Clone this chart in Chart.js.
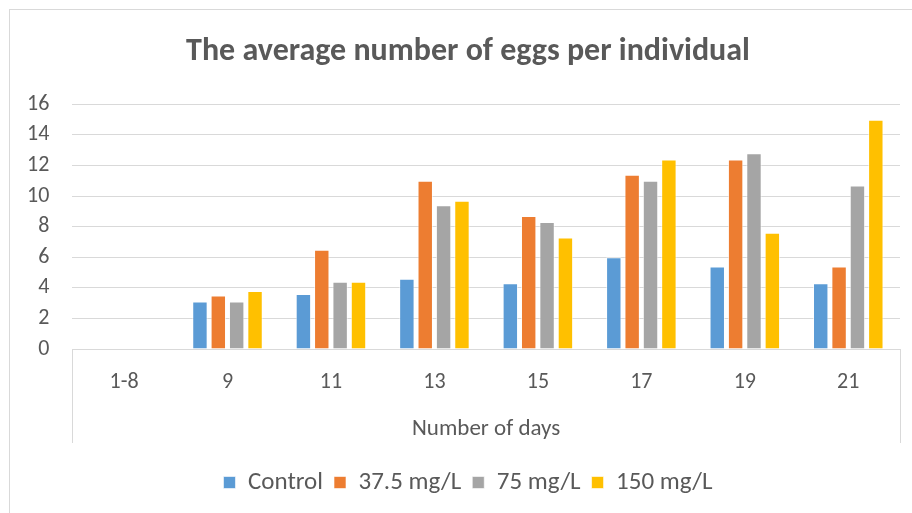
<!DOCTYPE html>
<html>
<head>
<meta charset="utf-8">
<script src="https://cdn.jsdelivr.net/npm/chart.js@4"></script>
<style>
  html, body { margin: 0; padding: 0; background: #ffffff; }
  #wrap { position: relative; width: 912px; height: 513px; }
  #frame { position: absolute; left: 9px; top: 9px; width: 920px; height: 520px; border: 1px solid #d9d9d9; box-sizing: border-box; }
  #chart { position: absolute; left: 0; top: 0; }
</style>
</head>
<body>
<div id="wrap">
  <div id="frame"></div>
  <canvas id="chart" width="912" height="513"></canvas>
</div>
<script>
const days = ['1-8', '9', '11', '13', '15', '17', '19', '21'];
const control = [0, 3.1, 3.6, 4.6, 4.3, 6.0, 5.4, 4.3];
const dose37 = [0, 3.5, 6.5, 11.0, 8.7, 11.4, 12.4, 5.4];
const dose75 = [0, 3.1, 4.4, 9.4, 8.3, 11.0, 12.8, 10.7];
const dose150 = [0, 3.8, 4.4, 9.7, 7.3, 12.4, 7.6, 15.0];
const yTicks = [0, 2, 4, 6, 8, 10, 12, 14, 16];

const textGray = '#595959';
const font = 'Calibri, Carlito, "Liberation Sans", Arial, sans-serif';
const titleGap = 16; // extra space under the axis title, outside the category box

const categoryBox = {
    id: 'categoryBox',
    afterLayout(chart) {
        // title and legend are centred on the whole frame, not the plot
        const shift = 16;
        chart.titleBlock.left += shift;
        chart.titleBlock.right += shift;
        chart.legend.left += shift;
        chart.legend.right += shift;
    },
    afterDraw(chart) {
        // box lines down the sides of the category axis (Excel style)
        const { ctx, chartArea } = chart;
        const bottom = chart.scales.x.bottom - titleGap;
        ctx.save();
        ctx.strokeStyle = '#d9d9d9';
        ctx.lineWidth = 1;
        ctx.beginPath();
        ctx.moveTo(Math.round(chartArea.left) + 0.5, chartArea.bottom);
        ctx.lineTo(Math.round(chartArea.left) + 0.5, bottom);
        ctx.moveTo(Math.round(chartArea.right) + 0.5, chartArea.bottom);
        ctx.lineTo(Math.round(chartArea.right) + 0.5, bottom);
        ctx.stroke();
        ctx.restore();
    }
};

const ds = (label, data, color) => ({
    label: label,
    data: data,
    backgroundColor: color,
    borderColor: 'rgba(255,255,255,0.6)',
    borderWidth: 1,
    categoryPercentage: 0.71,
    barPercentage: 0.84
});

new Chart(document.getElementById('chart'), {
    type: 'bar',
    data: {
        labels: days,
        datasets: [
            ds('Control', control, '#5b9bd5'),
            ds('37.5 mg/L', dose37, '#ed7d31'),
            ds('75 mg/L', dose75, '#a5a5a5'),
            ds('150 mg/L', dose150, '#ffc000')
        ]
    },
    options: {
        responsive: false,
        animation: false,
        layout: { padding: { left: 4, right: 12, top: 29, bottom: 8 } },
        scales: {
            x: {
                grid: { display: false },
                border: { color: '#d9d9d9', width: 1 },
                ticks: { color: textGray, font: { family: font, size: 22 }, padding: 12 },
                title: { display: true, text: 'Number of days', color: textGray, font: { family: font, size: 23 }, padding: { top: 8, bottom: titleGap } }
            },
            y: {
                min: 0,
                max: 16,
                afterBuildTicks(axis) { axis.ticks = yTicks.map(v => ({ value: v })); },
                grid: { color: '#d9d9d9', lineWidth: 1, drawTicks: false },
                border: { display: false },
                ticks: { color: textGray, font: { family: font, size: 22 }, padding: 23, autoSkip: false }
            }
        },
        plugins: {
            title: {
                display: true,
                text: 'The average number of eggs per individual',
                color: textGray,
                font: { family: font, size: 32, weight: 'bold' },
                padding: { top: 4, bottom: 33 }
            },
            legend: {
                position: 'bottom',
                labels: { color: textGray, font: { family: font, size: 25 }, boxWidth: 12, boxHeight: 12, padding: 11 }
            },
            tooltip: { enabled: false }
        }
    },
    plugins: [categoryBox]
});
</script>
</body>
</html>
